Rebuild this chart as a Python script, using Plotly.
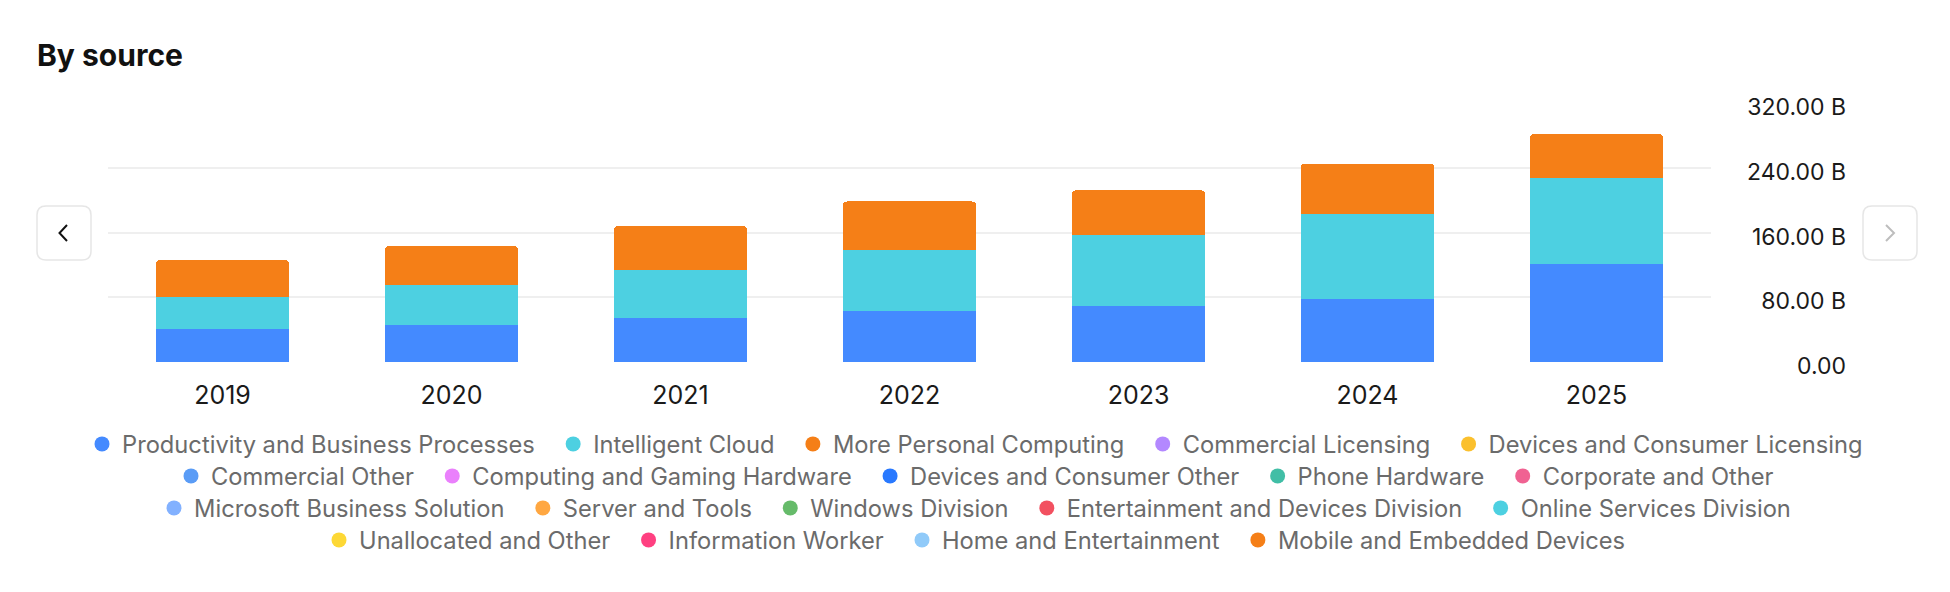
import plotly.graph_objects as go

# ---------------- data ----------------
years = ["2019", "2020", "2021", "2022", "2023", "2024", "2025"]
productivity = [41.16, 46.40, 53.92, 63.36, 69.27, 77.73, 120.81]
intelligent_cloud = [38.99, 48.37, 59.73, 75.25, 87.91, 105.36, 106.27]
personal_computing = [45.70, 48.25, 54.09, 59.66, 54.73, 62.03, 54.65]

y_tickvals = [0, 80, 160, 240, 320]
y_ticktext = ["0.00", "80.00 B", "160.00 B", "240.00 B", "320.00 B"]

legend_rows = [
    ["Productivity and Business Processes", "Intelligent Cloud", "More Personal Computing",
     "Commercial Licensing", "Devices and Consumer Licensing"],
    ["Commercial Other", "Computing and Gaming Hardware", "Devices and Consumer Other",
     "Phone Hardware", "Corporate and Other"],
    ["Microsoft Business Solution", "Server and Tools", "Windows Division",
     "Entertainment and Devices Division", "Online Services Division"],
    ["Unallocated and Other", "Information Worker", "Home and Entertainment",
     "Mobile and Embedded Devices"],
]

colors = {
    "Productivity and Business Processes": "#448AFF",
    "Intelligent Cloud": "#4DD0E1",
    "More Personal Computing": "#F57F17",
    "Commercial Licensing": "#B388FF",
    "Devices and Consumer Licensing": "#FBC02D",
    "Commercial Other": "#5A9CF6",
    "Computing and Gaming Hardware": "#EA80FC",
    "Devices and Consumer Other": "#2979FF",
    "Phone Hardware": "#41BEA6",
    "Corporate and Other": "#F06292",
    "Microsoft Business Solution": "#82B1FF",
    "Server and Tools": "#FFA741",
    "Windows Division": "#66BB6A",
    "Entertainment and Devices Division": "#F25060",
    "Online Services Division": "#4DD0E1",
    "Unallocated and Other": "#FDD835",
    "Information Worker": "#FF4081",
    "Home and Entertainment": "#90CAF9",
    "Mobile and Embedded Devices": "#F57F17",
}

series = [
    ("Productivity and Business Processes", productivity),
    ("Intelligent Cloud", intelligent_cloud),
    ("More Personal Computing", personal_computing),
]

# ---------------- geometry ----------------
W, H = 1950, 592
MT, MB = 102, 229
PH = H - MT - MB
PLOT_LEFT, PLOT_RIGHT = 108, 1711
Y_RANGE = [-1, 321]


def px(x):
    return x / W


def py(y):
    return (H - MB - y) / PH


FONT = "Inter, 'Open Sans', sans-serif"

fig = go.Figure()

for name, vals in series:
    fig.add_trace(go.Bar(
        x=years, y=vals, name=name, marker=dict(color=colors[name], line=dict(width=0)),
        showlegend=False, legendgroup=name,
    ))

legend_ids = ["legend", "legend2", "legend3", "legend4"]
SPACER = "\u00a0\u00a0"
for ri, row in enumerate(legend_rows):
    for ci, name in enumerate(row):
        label = name + (SPACER if ci < len(row) - 1 else "")
        fig.add_trace(go.Scatter(
            x=[None], y=[None], mode="markers", name=label,
            marker=dict(color=colors[name], size=15, symbol="circle"),
            legend=legend_ids[ri], legendgroup=name, showlegend=True,
        ))

row_y = [444, 476, 508, 540]
legend_common = dict(
    orientation="h", xref="container", x=0.5, xanchor="center",
    yref="container", yanchor="middle",
    font=dict(family=FONT, size=23.7, color="#6B6B6B"),
    bgcolor="rgba(0,0,0,0)", borderwidth=0, itemclick=False, itemdoubleclick=False,
)
legend_layout = {}
for ri, lid in enumerate(legend_ids):
    d = dict(legend_common)
    d["y"] = 1 - row_y[ri] / H
    legend_layout[lid] = d


def rounded_rect(x0, y0, x1, y1, r):
    pts = [
        f"M {px(x0 + r)},{py(y0)}",
        f"L {px(x1 - r)},{py(y0)}",
        f"Q {px(x1)},{py(y0)} {px(x1)},{py(y0 + r)}",
        f"L {px(x1)},{py(y1 - r)}",
        f"Q {px(x1)},{py(y1)} {px(x1 - r)},{py(y1)}",
        f"L {px(x0 + r)},{py(y1)}",
        f"Q {px(x0)},{py(y1)} {px(x0)},{py(y1 - r)}",
        f"L {px(x0)},{py(y0 + r)}",
        f"Q {px(x0)},{py(y0)} {px(x0 + r)},{py(y0)}",
        "Z",
    ]
    return " ".join(pts)


def polyline(points):
    return "M " + " L ".join(f"{px(a)},{py(b)}" for a, b in points)


shapes = [
    dict(type="path", xref="paper", yref="paper", path=rounded_rect(37, 206, 91, 260, 9),
         line=dict(color="#E6E6E6", width=1.5), fillcolor="white", layer="above"),
    dict(type="path", xref="paper", yref="paper", path=polyline([(67, 225), (59.5, 233), (67, 241)]),
         line=dict(color="#111111", width=2), layer="above"),
    dict(type="path", xref="paper", yref="paper", path=rounded_rect(1863, 206, 1917, 260, 9),
         line=dict(color="#E6E6E6", width=1.5), fillcolor="white", layer="above"),
    dict(type="path", xref="paper", yref="paper", path=polyline([(1886, 225), (1894, 233), (1886, 241)]),
         line=dict(color="#BDBDBD", width=2), layer="above"),
]

fig.update_layout(
    width=W, height=H,
    margin=dict(l=0, r=0, t=MT, b=MB, pad=0, autoexpand=False),
    paper_bgcolor="white", plot_bgcolor="white",
    barmode="stack", bargap=0.42, barcornerradius=4,
    title=dict(text="By source", xref="container", yref="container",
               x=37 / W, xanchor="left", y=1 - 55 / H, yanchor="middle",
               font=dict(family=FONT, size=30, color="#111111", weight=700)),
    xaxis=dict(domain=[px(PLOT_LEFT), px(PLOT_RIGHT)], type="category", showgrid=False,
               zeroline=False, showline=False, ticks="", ticklabelstandoff=15,
               tickfont=dict(family=FONT, size=25, color="#1A1A1A"), fixedrange=True),
    yaxis=dict(range=Y_RANGE, tickvals=y_tickvals, ticktext=y_ticktext,
               side="left", anchor="free", position=px(1846),
               showgrid=True, gridcolor="#EFEFEF", gridwidth=1.5, zeroline=False,
               showline=False, ticks="", ticklabelshift=4,
               tickfont=dict(family=FONT, size=23, color="#1A1A1A"), fixedrange=True),
    shapes=shapes,
    showlegend=True,
    hovermode=False,
    **legend_layout,
)

fig.write_html("out.html")
